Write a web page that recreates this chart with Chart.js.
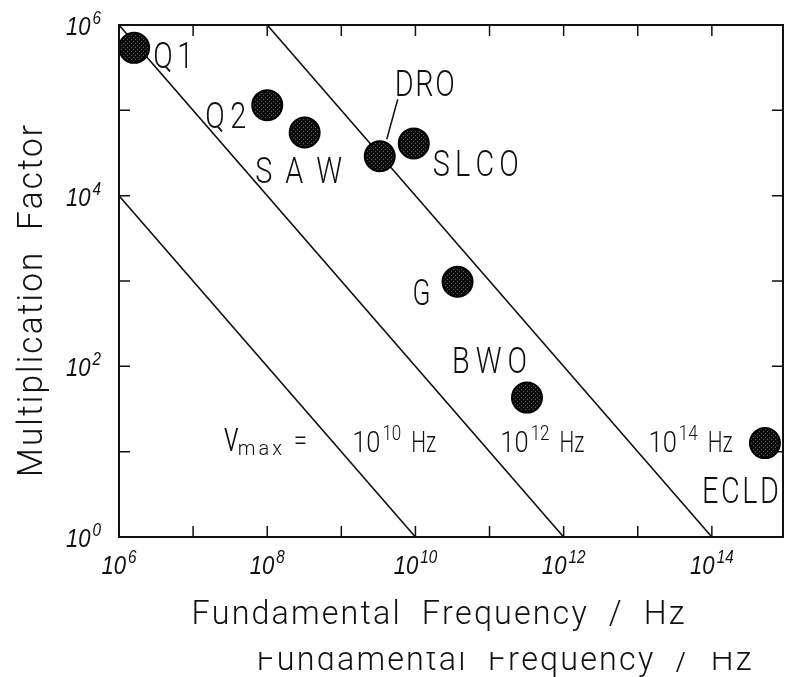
<!DOCTYPE html>
<html lang="en">
<head>
<meta charset="UTF-8">
<title>Multiplication factor vs fundamental frequency</title>
<script src="https://cdn.jsdelivr.net/npm/chart.js"></script>
<style>
  html, body { margin: 0; padding: 0; background: #fff; overflow: hidden; }
  #wrap { width: 789px; height: 677px; overflow: hidden; }
</style>
</head>
<body>
<div id="wrap"><canvas id="chart" width="800" height="677"></canvas></div>
<script>
// oscillator sources: fundamental frequency (Hz) and multiplication factor
const sourceNames = ['Q1', 'Q2', 'SAW', 'DRO', 'SLCO', 'G', 'BWO', 'ECLD'];
const freqHz     = [1.6e6, 1.0e8, 3.2e8, 3.3e9, 9.5e9, 3.7e10, 3.2e11, 5.2e14];
const multFactor = [5.4e5, 1.15e5, 5.5e4, 2.9e4, 4.1e4, 980, 43, 12.6];

// lines of constant output frequency, nu_max = f * N
const nuMaxHz = [1e10, 1e12, 1e14];

// decade tick marks and labelled powers of ten
const xDecades = [6, 7, 8, 9, 10, 11, 12, 13, 14];
const yDecades = [0, 1, 2, 3, 4, 5, 6];
const xLabelExp = [6, 8, 10, 12, 14];
const yLabelExp = [0, 2, 4, 6];

// where each source name sits relative to its dot (px): align, dx, dy, width
const nameBox = {
  Q1:   ['left',   19,  20, 40],
  Q2:   ['right', -21,  23, 41],
  SAW:  ['center', -6,  51, 87],
  DRO:  ['left',   15, -60, 60],
  SLCO: ['left',   19,  33, 86],
  G:    ['right', -27,  23, 18],
  BWO:  ['right',   0, -25, 75],
  ECLD: ['right',  14,  60, 77]
};

const FONT = 'Roboto, "DejaVu Sans", sans-serif';

// stippled fill for the dots
function dotPattern() {
  const c = document.createElement('canvas');
  c.width = 4; c.height = 4;
  const g = c.getContext('2d');
  g.fillStyle = '#0c0c0c'; g.fillRect(0, 0, 4, 4);
  g.fillStyle = '#5a5a5a'; g.fillRect(1, 1, 1, 1); g.fillRect(3, 3, 1, 1);
  return g.createPattern(c, 'repeat');
}

// draw text char by char, squeezed, spread out to a given width
function spread(ctx, text, x, base, size, width, align, squeeze) {
  ctx.font = `300 ${size}px ${FONT}`;
  let sq = squeeze || 0.8;
  const chars = [...text];
  const w = chars.map(c => ctx.measureText(c).width * sq);
  let sum = w.reduce((p, q) => p + q, 0);
  let gap = 0;
  if (chars.length > 1 && sum < width) {
    gap = (width - sum) / (chars.length - 1);
  } else if (sum > width) {
    const k = width / sum;
    sq *= k;
    for (let i = 0; i < w.length; i++) w[i] *= k;
    sum = width;
  }
  const total = sum + gap * (chars.length - 1);
  let cx = align === 'right' ? x - total : align === 'center' ? x - total / 2 : x;
  chars.forEach((c, i) => {
    ctx.save();
    ctx.translate(cx, base);
    ctx.scale(sq, 1);
    ctx.fillText(c, 0, 0);
    ctx.restore();
    cx += w[i] + gap;
  });
}

// "10" with a raised exponent
function power(ctx, exp, x, base, align, o) {
  const sq = o.squeeze;
  ctx.font = `${o.style} ${o.size}px ${o.family}`;
  const w1 = ctx.measureText('10').width * sq;
  ctx.font = `${o.style} ${o.sup}px ${o.family}`;
  const w2 = ctx.measureText(String(exp)).width * sq;
  const total = w1 + 2 + w2;
  let cx = align === 'right' ? x - total : align === 'center' ? x - total / 2 : x;
  ctx.save(); ctx.translate(cx, base); ctx.scale(sq, 1);
  ctx.font = `${o.style} ${o.size}px ${o.family}`;
  ctx.fillText('10', 0, 0);
  ctx.restore();
  ctx.save(); ctx.translate(cx + w1 + 2, base - o.raise); ctx.scale(sq, 1);
  ctx.font = `${o.style} ${o.sup}px ${o.family}`;
  ctx.fillText(String(exp), 0, 0);
  ctx.restore();
  return cx + total;
}

const tickFont = { style: 'italic', family: '"Liberation Sans", Arial, sans-serif', size: 26, sup: 18, raise: 11, squeeze: 0.85 };
const annFont  = { style: '300', family: FONT, size: 30, sup: 20, raise: 12, squeeze: 0.85 };

const framePlugin = {
  id: 'frame',
  afterDraw(chart) {
    const { ctx, chartArea: a } = chart;
    const xs = chart.scales.x, ys = chart.scales.y;
    ctx.save();
    ctx.fillStyle = '#111';
    ctx.strokeStyle = '#111';

    // box and inward decade ticks
    ctx.lineWidth = 2;
    ctx.strokeRect(a.left, a.top, a.right - a.left, a.bottom - a.top);
    ctx.lineWidth = 1.5;
    ctx.beginPath();
    xDecades.forEach(e => {
      const px = xs.getPixelForValue(10 ** e);
      ctx.moveTo(px, a.bottom); ctx.lineTo(px, a.bottom - 11);
      ctx.moveTo(px, a.top); ctx.lineTo(px, a.top + 11);
    });
    yDecades.forEach(e => {
      const py = ys.getPixelForValue(10 ** e);
      ctx.moveTo(a.left, py); ctx.lineTo(a.left + 11, py);
      ctx.moveTo(a.right, py); ctx.lineTo(a.right - 11, py);
    });
    ctx.stroke();

    // tick labels
    xLabelExp.forEach(e => power(ctx, e, xs.getPixelForValue(10 ** e), a.bottom + 37, 'center', tickFont));
    yLabelExp.forEach(e => power(ctx, e, a.left - 18, ys.getPixelForValue(10 ** e) + 10, 'right', tickFont));

    // source names
    const meta = chart.getDatasetMeta(0);
    sourceNames.forEach((name, i) => {
      const p = meta.data[i];
      const [al, dx, dy, w] = nameBox[name];
      spread(ctx, name, p.x + dx, p.y + dy, 36, w, al);
      if (name === 'DRO') {
        ctx.lineWidth = 1.5;
        ctx.beginPath();
        ctx.moveTo(p.x + 18, p.y - 57);
        ctx.lineTo(p.x + 7, p.y - 17);
        ctx.stroke();
      }
    });

    // nu_max labels along the constant-frequency lines
    const by = ys.getPixelForValue(10);
    const nx = xs.getPixelForValue(2.6e7);
    spread(ctx, 'ν', nx, by - 1, 42, 15, 'left');
    spread(ctx, 'max', nx + 14, by + 3, 21, 44, 'left', 0.95);
    spread(ctx, '=', nx + 70, by - 2, 30, 15, 'left');
    nuMaxHz.forEach(nu => {
      const lx = xs.getPixelForValue(nu * 0.14);
      const end = power(ctx, Math.log10(nu), lx, by, 'left', annFont);
      spread(ctx, 'Hz', end + 10, by, 30, 25, 'left', 0.9);
    });

    // axis titles
    spread(ctx, 'Fundamental  Frequency  /  Hz', 438, 624, 34, 493, 'center', 0.95);
    ctx.save();
    ctx.beginPath(); ctx.rect(0, 652, 800, 40); ctx.clip();
    spread(ctx, 'Fundamental  Frequency  /  Hz', 504, 670, 34, 495, 'center', 0.95);
    ctx.restore();

    ctx.save();
    ctx.translate(42, 301);
    ctx.rotate(-Math.PI / 2);
    spread(ctx, 'Multiplication  Factor', 0, 0, 35, 352, 'center', 0.95);
    ctx.restore();

    ctx.restore();
  }
};

const points = freqHz.map((f, i) => ({ x: f, y: multFactor[i] }));

const limitLines = nuMaxHz.map(nu => {
  const x0 = Math.max(1e6, nu / 1e6);
  return {
    type: 'line',
    data: [{ x: x0, y: nu / x0 }, { x: nu, y: 1 }],
    borderColor: '#111',
    borderWidth: 1.6,
    pointRadius: 0,
    fill: false,
    order: 2
  };
});

new Chart(document.getElementById('chart'), {
  type: 'scatter',
  data: {
    datasets: [{
      data: points,
      pointRadius: 15,
      pointBackgroundColor: dotPattern(),
      pointBorderColor: '#000',
      pointBorderWidth: 2,
      clip: false,
      order: 1
    }, ...limitLines]
  },
  options: {
    responsive: false,
    animation: false,
    devicePixelRatio: 1,
    layout: { padding: { left: 119, top: 25, right: 9.5, bottom: 140 } },
    plugins: { legend: { display: false }, tooltip: { enabled: false } },
    scales: {
      x: { type: 'logarithmic', display: false, min: 1e6, max: 10 ** 14.96 },
      y: { type: 'logarithmic', display: false, min: 1, max: 1e6 }
    }
  },
  plugins: [framePlugin]
});
</script>
</body>
</html>
